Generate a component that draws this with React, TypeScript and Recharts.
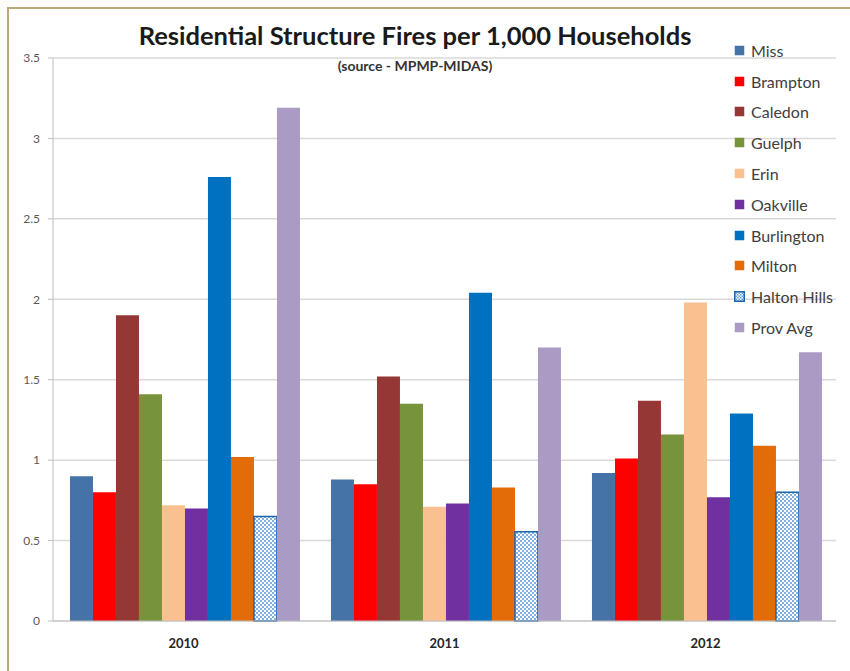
import { BarChart, Bar, XAxis, YAxis, CartesianGrid, Legend } from 'recharts';

// values (fires per 1,000 households)
const years = ['2010', '2011', '2012'];
const miss = [0.9, 0.88, 0.92];
const brampton = [0.8, 0.85, 1.01];
const caledon = [1.9, 1.52, 1.37];
const guelph = [1.41, 1.35, 1.16];
const erin = [0.72, 0.71, 1.98];
const oakville = [0.7, 0.73, 0.77];
const burlington = [2.76, 2.04, 1.29];
const milton = [1.02, 0.83, 1.09];
const haltonHills = [0.65, 0.555, 0.8];
const provAvg = [3.19, 1.7, 1.67];
const yTicks = [0, 0.5, 1, 1.5, 2, 2.5, 3, 3.5];

const FONT = 'Lato, "Open Sans", sans-serif';

const series = [
  { key: 'miss', name: 'Miss', values: miss, color: '#4572a7' },
  { key: 'brampton', name: 'Brampton', values: brampton, color: '#ff0000' },
  { key: 'caledon', name: 'Caledon', values: caledon, color: '#953735' },
  { key: 'guelph', name: 'Guelph', values: guelph, color: '#77933c' },
  { key: 'erin', name: 'Erin', values: erin, color: '#fac090' },
  { key: 'oakville', name: 'Oakville', values: oakville, color: '#7030a0' },
  { key: 'burlington', name: 'Burlington', values: burlington, color: '#0070c0' },
  { key: 'milton', name: 'Milton', values: milton, color: '#e36c09' },
  { key: 'haltonHills', name: 'Halton Hills', values: haltonHills, color: 'url(#haltonPattern)', stroke: '#1f63a8' },
  { key: 'provAvg', name: 'Prov Avg', values: provAvg, color: '#a99bc4' },
];

const data = years.map((year, i) => {
  const row: { [key: string]: any } = { year };
  series.forEach((s) => {
    row[s.key] = s.values[i];
  });
  return row;
});

// legend drawn from the series list so the patterned swatch matches the bars
const LegendContent = () => (
  <div style={{ fontFamily: FONT, fontSize: 16, color: '#404040' }}>
    {series.map((s) => (
      <div key={s.key} style={{ display: 'flex', alignItems: 'center', height: 30.8 }}>
        <svg width={11} height={11} style={{ marginRight: 6 }}>
          <rect
            x={0.75}
            y={0.75}
            width={9.5}
            height={9.5}
            fill={s.stroke ? 'url(#haltonPatternLegend)' : s.color}
            stroke={s.stroke || 'none'}
            strokeWidth={1.5}
          />
          {s.stroke && (
            <defs>
              <pattern id="haltonPatternLegend" width={3} height={3} patternUnits="userSpaceOnUse">
                <rect width={3} height={3} fill="#ffffff" />
                <rect width={1.5} height={1.5} fill="#5b9bd5" />
                <rect x={1.5} y={1.5} width={1.5} height={1.5} fill="#5b9bd5" />
              </pattern>
            </defs>
          )}
        </svg>
        <span>{s.name}</span>
      </div>
    ))}
  </div>
);

export default function App() {
  return (
    <div style={{ position: 'absolute', left: 0, top: 0, width: 850, height: 671, background: '#fdfcf8', overflow: 'hidden' }}>
      <div
        style={{
          position: 'absolute',
          left: 7,
          top: 7,
          width: 860,
          height: 680,
          background: '#ffffff',
          borderLeft: '2px solid #b9a878',
          borderTop: '2px solid #b9a878',
        }}
      />
      <BarChart
        width={850}
        height={671}
        data={data}
        margin={{ top: 58, right: 14, left: 0, bottom: 0 }}
        barCategoryGap="6.5%"
        barGap={0}
        style={{ position: 'absolute', left: 0, top: 0 }}
      >
        <defs>
          <pattern id="haltonPattern" width={4} height={4} patternUnits="userSpaceOnUse">
            <rect width={4} height={4} fill="#ffffff" />
            <rect width={2} height={2} fill="#7fb0e0" />
            <rect x={2} y={2} width={2} height={2} fill="#7fb0e0" />
          </pattern>
        </defs>
        <CartesianGrid vertical={false} stroke="#d9d9d9" strokeWidth={1.5} />
        <XAxis
          dataKey="year"
          height={50}
          axisLine={{ stroke: '#bfbfbf' }}
          tickLine={false}
          tickSize={6}
          tickMargin={12}
          tick={{ fontFamily: FONT, fontSize: 13, fontWeight: 700, fill: '#262626' }}
        />
        <YAxis
          width={53}
          domain={[0, 3.5]}
          ticks={yTicks}
          axisLine={{ stroke: '#bfbfbf' }}
          tickLine={{ stroke: '#bfbfbf' }}
          tickSize={5}
          tickMargin={8}
          tick={{ fontFamily: FONT, fontSize: 12, fill: '#595959' }}
        />
        <Legend
          layout="vertical"
          align="center"
          verticalAlign="middle"
          content={<LegendContent />}
          wrapperStyle={{ left: 734, top: 35, width: 116 }}
        />
        {series.map((s) => (
          <Bar
            key={s.key}
            dataKey={s.key}
            name={s.name}
            fill={s.color}
            stroke={s.stroke}
            strokeWidth={s.stroke ? 1.5 : 0}
            isAnimationActive={false}
          />
        ))}
      </BarChart>
      <div
        style={{
          position: 'absolute',
          left: 0,
          width: 830,
          top: 20,
          textAlign: 'center',
          fontFamily: FONT,
          fontWeight: 700,
          fontSize: 25.5,
          color: '#1a1a1a',
        }}
      >
        Residential Structure Fires per 1,000 Households
      </div>
      <div
        style={{
          position: 'absolute',
          left: 0,
          width: 830,
          top: 57,
          textAlign: 'center',
          fontFamily: FONT,
          fontWeight: 700,
          fontSize: 14,
          color: '#333333',
        }}
      >
        (source - MPMP-MIDAS)
      </div>
    </div>
  );
}
